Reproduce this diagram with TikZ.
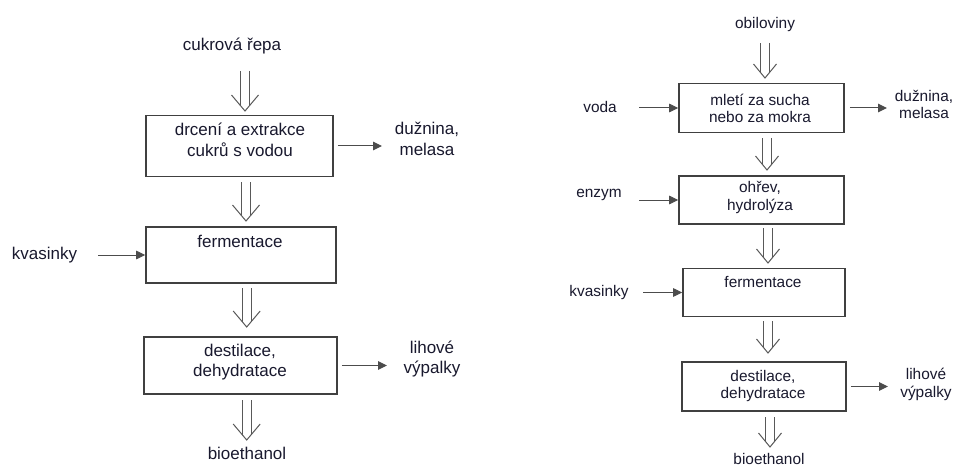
\documentclass[tikz,border=0pt]{standalone}
\usepackage{fontspec}
\setmainfont{Liberation Sans}
\usetikzlibrary{arrows.meta}
\definecolor{txt}{rgb}{0.10,0.10,0.18}
\definecolor{boxc}{rgb}{0.25,0.25,0.25}
\definecolor{shaftc}{rgb}{0.35,0.35,0.35}
\definecolor{arrc}{rgb}{0.30,0.30,0.30}
\newcommand\mydblarr[4]{%
  \draw[dshaft] (#1) -- (#2);
  \draw[vhead] (#2) ++(-#3,-#4) -- (#2) -- ++(#3,-#4);}
\begin{document}
\begin{tikzpicture}[x=1pt,y=-1pt,
  procbox/.style={draw=boxc, line width=1.6pt, minimum width=#1, inner sep=0pt},
  ltxt/.style={text=txt, font=\fontsize{17}{20.5}\selectfont, align=center, inner sep=0pt},
  rtxt/.style={text=txt, font=\fontsize{15.4}{17.5}\selectfont, align=center, inner sep=0pt},
  dshaft/.style={draw=shaftc, line width=1pt, double=white, double distance=7.6pt, shorten >=5pt},
  vhead/.style={draw=shaftc, line width=1pt, line join=miter},
  arr/.style={draw=arrc, line width=1pt, -{Triangle[length=9pt,width=8.5pt]}, >={Triangle}},
  ]
\fill[white] (0,0) rectangle (956,468);
\useasboundingbox (0,0) rectangle (956,468);

% ---------------- left diagram ----------------
\node[ltxt] (lin) at (232,46) {cukrová řepa};
\node[procbox=187pt, minimum height=61pt] (L1) at (239.5,146) {};
\node[ltxt] (L1t) at (240,140) {drcení a extrakce\\cukrů s vodou};
\node[ltxt] (Lo1) at (427,139) {dužnina,\\melasa};
\node[procbox=190pt, minimum height=56pt] (L2) at (241,255) {};
\node[ltxt] (L2t) at (240,241) {fermentace};
\node[ltxt] (Li2) at (44.5,255) {kvasinky};
\node[procbox=193pt, minimum height=57pt] (L3) at (240.5,365.5) {};
\node[ltxt] (L3t) at (240,362) {destilace,\\dehydratace};
\node[ltxt] (Lo3) at (432,359) {lihové\\výpalky};
\node[ltxt] (lout) at (247,453) {bioethanol};

\coordinate (la1) at (245,71);   \coordinate (lb1) at (245,111);
\coordinate (la2) at (246,182);  \coordinate (lb2) at (246,221);
\coordinate (la3) at (246.7,288);\coordinate (lb3) at (246.7,327);
\coordinate (la4) at (246.7,400);\coordinate (lb4) at (246.7,440);
\mydblarr{la1}{lb1}{13.5}{16}
\mydblarr{la2}{lb2}{13.5}{16}
\mydblarr{la3}{lb3}{13.5}{16}
\mydblarr{la4}{lb4}{13.5}{16}

\coordinate (le1) at (382,146);
\draw[arr] ([xshift=4pt]L1.east) -- (le1);
\coordinate (ls2) at (98,255);
\draw[arr] (ls2) -- (L2.west);
\coordinate (le3) at (387,365.5);
\draw[arr] ([xshift=4pt]L3.east) -- (le3);

% ---------------- right diagram ----------------
\node[rtxt] (rin) at (765,25) {obiloviny};
\node[procbox=165pt, minimum height=49pt] (R1) at (761.5,108) {};
\node[rtxt] (R1t) at (760,108.5) {mletí za sucha\\nebo za mokra};
\node[rtxt] (Ri1) at (600,107) {voda};
\node[rtxt] (Ro1) at (924,104.5) {dužnina,\\melasa};
\node[procbox=165pt, minimum height=48pt] (R2) at (761.5,200) {};
\node[rtxt] (R2t) at (760,197.5) {ohřev,\\hydrolýza};
\node[rtxt] (Ri2) at (599,195) {enzym};
\node[procbox=162pt, minimum height=48pt] (R3) at (764,292.5) {};
\node[rtxt] (R3t) at (763,282) {fermentace};
\node[rtxt] (Ri3) at (599,293) {kvasinky};
\node[procbox=164pt, minimum height=49pt] (R4) at (764,386.5) {};
\node[rtxt] (R4t) at (763,386) {destilace,\\dehydratace};
\node[rtxt] (Ro4) at (926,384.5) {lihové\\výpalky};
\node[rtxt] (rout) at (769,459) {bioethanol};

\coordinate (ra1) at (765,43);  \coordinate (rb1) at (765,78);
\coordinate (ra2) at (767,138); \coordinate (rb2) at (767,170);
\coordinate (ra3) at (768,228); \coordinate (rb3) at (768,263);
\coordinate (ra4) at (768,321); \coordinate (rb4) at (768,353);
\coordinate (ra5) at (770,417); \coordinate (rb5) at (770,447);
\mydblarr{ra1}{rb1}{11.5}{14}
\mydblarr{ra2}{rb2}{11.5}{14}
\mydblarr{ra3}{rb3}{11.5}{14}
\mydblarr{ra4}{rb4}{11.5}{14}
\mydblarr{ra5}{rb5}{11.5}{14}

\coordinate (rs1) at (639,108);
\draw[arr] (rs1) -- (R1.west);
\coordinate (re1) at (887,108);
\draw[arr] ([xshift=5pt]R1.east) -- (re1);
\coordinate (rs2) at (639,200);
\draw[arr] (rs2) -- (R2.west);
\coordinate (rs3) at (643,292.5);
\draw[arr] (rs3) -- (R3.west);
\coordinate (re4) at (888,386.5);
\draw[arr] ([xshift=4pt]R4.east) -- (re4);
\end{tikzpicture}
\end{document}
